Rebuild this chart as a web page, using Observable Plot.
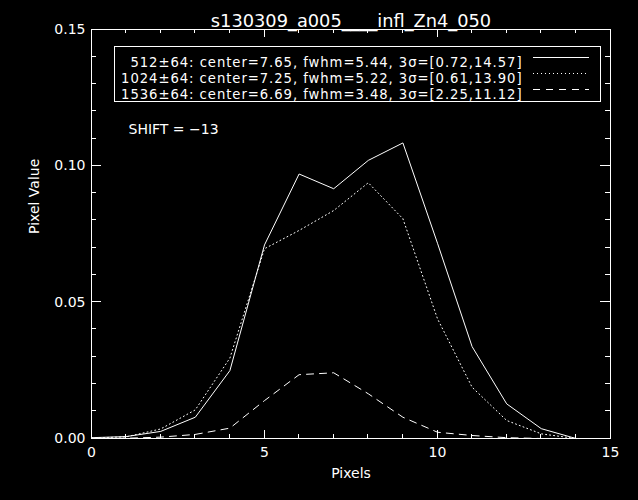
<!DOCTYPE html>
<html><head><meta charset="utf-8">
<script src="https://cdn.jsdelivr.net/npm/d3@7"></script>
<script src="https://cdn.jsdelivr.net/npm/@observablehq/plot@0.6"></script>
<style>
html,body{margin:0;padding:0;background:#000;}
#chart svg{display:block;}
</style></head><body><div id="chart"></div>
<script>
// ---- data ----
const pixels = [0,1,2,3,4,5,6,7,8,9,10,11,12,13,14];
const s512  = [0.0003,0.0007,0.0026,0.0078,0.0249,0.0710,0.0970,0.0916,0.1020,0.1084,0.0716,0.0337,0.0127,0.0036,0.0000];
const s1024 = [0.0002,0.0006,0.0035,0.0105,0.0295,0.0696,0.0763,0.0836,0.0938,0.0806,0.0439,0.0188,0.0066,0.0017,0.0000];
const s1536 = [0.0000,0.0001,0.0005,0.0015,0.0038,0.0139,0.0234,0.0241,0.0164,0.0078,0.0023,0.0011,0.0003,0.0000,0.0000];
const seriesNames = ["512±64","1024±64","1536±64"];
const legendLabels = [
  "512±64: center=7.65, fwhm=5.44, 3σ=[0.72,14.57]",
  "1024±64: center=7.25, fwhm=5.22, 3σ=[0.61,13.90]",
  "1536±64: center=6.69, fwhm=3.48, 3σ=[2.25,11.12]"
];
const titleText = "s130309_a005____infl_Zn4_050";
const xLabel = "Pixels";
const yLabel = "Pixel Value";
const shiftText = "SHIFT = −13";
const xMajor = [0,5,10,15];
const xMinor = [1,2,3,4,6,7,8,9,11,12,13,14];
const yMajor = [0,0.05,0.10,0.15];
const yMinor = [0.01,0.02,0.03,0.04,0.06,0.07,0.08,0.09,0.11,0.12,0.13,0.14];

const allSeries = [s512, s1024, s1536];
const rows = allSeries.map((s, k) => pixels.map((p, i) => ({x: p, y: s[i], series: seriesNames[k]})));
const dashes = [null, "1,3", "7,6"];

const font = "DejaVu Sans, sans-serif";
const fs = 14;

const plot = Plot.plot({
  width: 638, height: 500,
  marginLeft: 91, marginRight: 28, marginTop: 29, marginBottom: 62,
  style: {background: "#000", color: "#fff", fontFamily: font, fontSize: fs + "px"},
  x: {domain: [0, 15]},
  y: {domain: [0, 0.15]},
  marks: [
    Plot.frame({stroke: "#fff"}),
    // tick labels
    Plot.axisX(xMajor, {anchor: "bottom", tickSize: 0, tickPadding: 9, fontSize: fs, fill: "#fff", label: null}),
    Plot.axisY(yMajor, {anchor: "left", tickSize: 0, tickPadding: 6, tickFormat: d3.format(".2f"), fontSize: fs, fill: "#fff", label: null}),
    // data lines
    ...rows.map((r, k) => Plot.line(r, {x: "x", y: "y", stroke: "#fff", strokeWidth: 1, strokeDasharray: dashes[k]})),
    // texts
    Plot.text([titleText], {frameAnchor: "top", dy: -15, fontSize: 17.8, fill: "#fff"}),
    Plot.text([xLabel], {frameAnchor: "bottom", dy: 39, fontSize: fs, fill: "#fff"}),
    Plot.text([yLabel], {frameAnchor: "left", dx: -57, rotate: -90, fontSize: fs, fill: "#fff"}),
    Plot.text([shiftText], {frameAnchor: "top-left", dx: 37, dy: 95, textAnchor: "start", fontSize: fs, fill: "#fff"}),
    // legend box
    Plot.frame({stroke: "#fff", insetLeft: 23, insetRight: 10, insetTop: 17, insetBottom: 337}),
    ...legendLabels.map((t, k) => Plot.text([t], {frameAnchor: "top-left", dx: 431, dy: 28 + 16 * k, textAnchor: "end", fontSize: 13.2, fill: "#fff"}))
  ]
});

// widen legend text spacing (IDL vector font is wide)
d3.select(plot).selectAll("text").filter(function () { return this.textContent.includes("center="); })
  .attr("letter-spacing", "0.95px");

// inward ticks on all four sides, placed through the plot's own scales
const sx = plot.scale("x"), sy = plot.scale("y");
const [xl, xr] = sx.range, [yb, yt] = sy.range;
const tg = d3.select(plot).append("g").attr("stroke", "#fff").attr("stroke-width", 1).attr("shape-rendering", "crispEdges");
const tick = (x1, y1, x2, y2) => tg.append("line").attr("x1", x1).attr("y1", y1).attr("x2", x2).attr("y2", y2);
xMajor.forEach(v => { const p = sx.apply(v); tick(p, yb, p, yb - 8); tick(p, yt, p, yt + 8); });
xMinor.forEach(v => { const p = sx.apply(v); tick(p, yb, p, yb - 4); tick(p, yt, p, yt + 4); });
yMajor.forEach(v => { const p = sy.apply(v); tick(xl, p, xl + 10, p); tick(xr, p, xr - 10, p); });
yMinor.forEach(v => { const p = sy.apply(v); tick(xl, p, xl + 5, p); tick(xr, p, xr - 5, p); });

// legend line samples
const g = d3.select(plot).append("g").attr("stroke", "#fff").attr("stroke-width", 1);
seriesNames.forEach((n, k) => {
  const yy = 57.5 + 16 * k;
  g.append("line").attr("x1", 533).attr("x2", 589).attr("y1", yy).attr("y2", yy)
    .attr("stroke-dasharray", dashes[k]);
});

document.getElementById("chart").appendChild(plot);
</script>
</body></html>
